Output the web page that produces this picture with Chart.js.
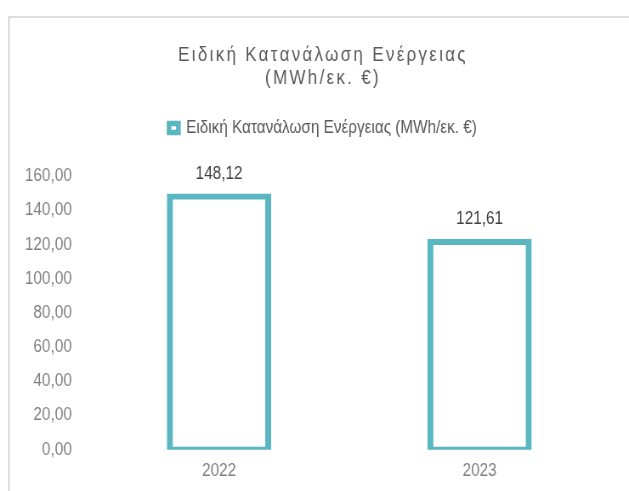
<!DOCTYPE html>
<html>
<head>
<meta charset="utf-8">
<script src="https://cdn.jsdelivr.net/npm/chart.js@4"></script>
<style>
  html, body { margin: 0; padding: 0; background: #fff; overflow: hidden; }
  #wrap { position: relative; width: 629px; height: 491px; overflow: hidden; }
  #frame {
    position: absolute; left: 8px; top: 16px; width: 700px; height: 600px;
    border: 2px solid #dedede; box-sizing: border-box;
  }
  /* the chart is laid out 740px wide and squeezed to 629px, which gives the narrow lettering */
  #squeeze { position: absolute; left: 0; top: 0; transform: scaleX(0.85); transform-origin: 0 0; }
</style>
</head>
<body>
<div id="wrap">
  <div id="frame"></div>
  <div id="squeeze"><canvas id="chart" width="740" height="491"></canvas></div>
</div>
<script>
const TITLE = ["Ειδική Κατανάλωση Ενέργειας", "(MWh/εκ. €)"];
const SERIES_NAME = "Ειδική Κατανάλωση Ενέργειας (MWh/εκ. €)";
const YEARS = ["2022", "2023"];
const CONSUMPTION = [148.12, 121.61];
const Y_TICKS = [0, 20, 40, 60, 80, 100, 120, 140, 160];

const TEAL = "#5ab6c0";
const FONT = '"Liberation Sans", Arial, sans-serif';

// comma as decimal separator
function fmt(v) {
  return v.toFixed(2).replace(".", ",");
}

// value labels above each bar
const barValues = {
  id: "barValues",
  afterDatasetsDraw(chart) {
    const ctx = chart.ctx;
    ctx.save();
    ctx.font = "18px " + FONT;
    ctx.fillStyle = "#404040";
    ctx.textAlign = "center";
    ctx.textBaseline = "middle";
    chart.getDatasetMeta(0).data.forEach((bar, i) => {
      ctx.fillText(fmt(chart.data.datasets[0].data[i]), bar.x, bar.y - 23);
    });
    ctx.restore();
  },
};

// spread out the title letters
const spacedTitle = {
  id: "spacedTitle",
  beforeDraw(chart) {
    const t = chart.titleBlock;
    if (!t || t._spaced) return;
    const draw = t.draw.bind(t);
    t.draw = (area) => {
      chart.ctx.save();
      chart.ctx.letterSpacing = "2.7px";
      draw(area);
      chart.ctx.restore();
    };
    t._spaced = true;
  },
};

// empty layout box, used as a gap
function spacer(position, size) {
  const horizontal = position === "top" || position === "bottom";
  return {
    position,
    weight: 500,
    fullSize: horizontal,
    options: {},
    isHorizontal() { return horizontal; },
    update(maxWidth, maxHeight) {
      this.width = horizontal ? maxWidth : size;
      this.height = horizontal ? size : maxHeight;
    },
    draw() {},
  };
}

const gaps = {
  id: "gaps",
  beforeInit(chart) {
    Chart.layouts.addBox(chart, spacer("top", 29.3));   // under the legend
    Chart.layouts.addBox(chart, spacer("right", 22.6)); // right of the plot
  },
};

new Chart(document.getElementById("chart"), {
  type: "bar",
  data: {
    labels: YEARS,
    datasets: [{
      label: SERIES_NAME,
      data: CONSUMPTION,
      backgroundColor: "#ffffff",
      borderColor: TEAL,
      borderWidth: { top: 6, bottom: 6, left: 7, right: 7 },
      borderSkipped: false,
      // outline straddles the bar edge instead of sitting inside it
      inflateAmount: 3,
      barPercentage: 1,
      categoryPercentage: 0.381,
    }],
  },
  options: {
    responsive: false,
    animation: false,
    events: [],
    layout: { padding: { top: 0, left: 20, right: 0, bottom: 0 } },
    plugins: {
      title: {
        display: true,
        text: TITLE,
        color: "#595959",
        font: { family: FONT, size: 20, weight: "normal", lineHeight: "23px" },
        padding: { top: 43.5, bottom: 19.5 },
      },
      legend: {
        display: true,
        labels: {
          color: "#595959",
          font: { family: FONT, size: 18 },
          boxWidth: 11,
          boxHeight: 9,
          padding: 10,
          generateLabels(chart) {
            const items = Chart.defaults.plugins.legend.labels.generateLabels(chart);
            items.forEach((it) => { it.lineWidth = 5.5; });
            return items;
          },
        },
      },
      tooltip: { enabled: false },
    },
    scales: {
      x: {
        afterFit(scale) { scale.height = 41.3; },
        grid: { display: false, drawTicks: false },
        border: { display: false },
        ticks: { color: "#808080", font: { family: FONT, size: 18 }, padding: 10.2 },
      },
      y: {
        min: 0,
        max: 160,
        afterFit(scale) { scale.width = 84.4; },
        afterBuildTicks(scale) { scale.ticks = Y_TICKS.map((v) => ({ value: v })); },
        grid: { display: false, drawTicks: false },
        border: { display: false },
        ticks: {
          color: "#808080",
          font: { family: FONT, size: 18 },
          padding: 20,
          callback: (v) => fmt(v),
        },
      },
    },
  },
  plugins: [barValues, spacedTitle, gaps],
});
</script>
</body>
</html>
